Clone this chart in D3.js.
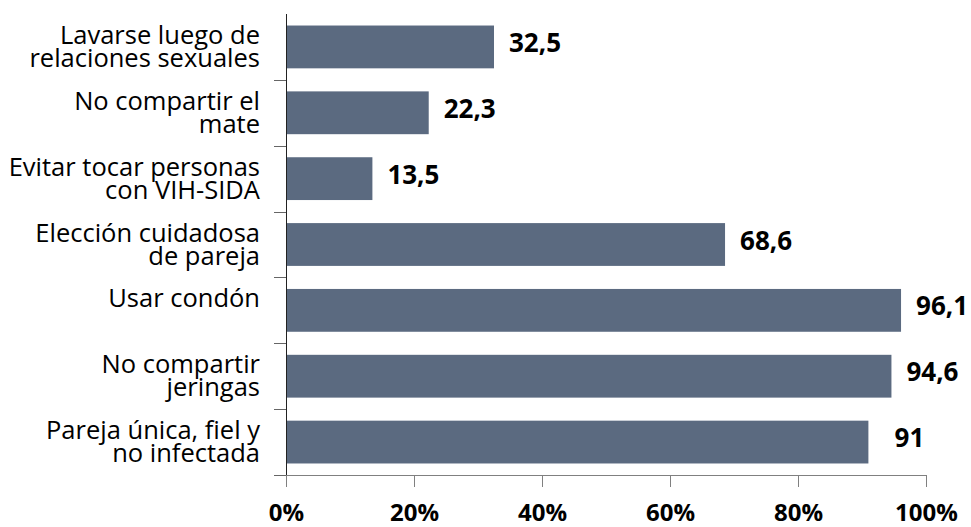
<!DOCTYPE html>
<meta charset="utf-8">
<head>
    <title>Prevención VIH</title>
    <script src="https://cdn.jsdelivr.net/npm/d3@7"></script>
    <style>
        body { margin: 0; background: #fff; }
        text { font-family: "Open Sans", "Noto Sans", sans-serif; }
    </style>
</head>
<body>
<script>
    // data
    var categories = [
        ["Lavarse luego de", "relaciones sexuales"],
        ["No compartir el", "mate"],
        ["Evitar tocar personas", "con VIH-SIDA"],
        ["Elección cuidadosa", "de pareja"],
        ["Usar condón"],
        ["No compartir", "jeringas"],
        ["Pareja única, fiel y", "no infectada"]
    ];
    var values = [32.5, 22.3, 13.5, 68.6, 96.1, 94.6, 91];
    var valueLabels = ["32,5", "22,3", "13,5", "68,6", "96,1", "94,6", "91"];
    var xTicks = [0, 20, 40, 60, 80, 100];

    var width = 971, height = 527;
    var plotLeft = 286, plotRight = 926, plotTop = 14, plotBottom = 475;

    var svg = d3.select("body").append("svg")
        .attr("width", width)
        .attr("height", height);

    var x = d3.scaleLinear().domain([0, 100]).range([plotLeft, plotRight]);
    var y = d3.scaleBand()
        .domain(d3.range(categories.length))
        .range([plotTop, plotBottom])
        .paddingInner(0.35)
        .paddingOuter(0.175);

    // bars
    svg.selectAll(".bar")
        .data(values)
        .enter()
        .append("rect")
        .attr("class", "bar")
        .attr("x", x(0))
        .attr("y", function(d, i) { return y(i); })
        .attr("width", function(d) { return x(d) - x(0); })
        .attr("height", y.bandwidth())
        .attr("fill", "#5b6a80");

    // value labels
    svg.selectAll(".val")
        .data(values)
        .enter()
        .append("text")
        .attr("class", "val")
        .attr("x", function(d) { return x(d) + 41; })
        .attr("y", function(d, i) { return y(i) + y.bandwidth() / 2 + 5; })
        .attr("text-anchor", "middle")
        .attr("font-size", 26)
        .attr("font-weight", "bold")
        .attr("fill", "#000")
        .text(function(d, i) { return valueLabels[i]; });

    // x axis
    var xAxis = d3.axisBottom(x)
        .tickValues(xTicks)
        .tickSize(12)
        .tickPadding(17)
        .tickFormat(function(d) { return d + "%"; });

    var gx = svg.append("g")
        .attr("transform", "translate(0," + plotBottom + ")")
        .call(xAxis);
    gx.select(".domain").attr("stroke", "#808080").attr("d", "M" + plotLeft + ",0.5H" + plotRight);
    gx.selectAll(".tick line").attr("stroke", "#808080");
    gx.selectAll(".tick text")
        .attr("font-size", 24)
        .attr("font-weight", "bold")
        .attr("fill", "#000")
        .attr("font-family", "'Open Sans', sans-serif");

    // y axis line and ticks at band boundaries
    svg.append("line")
        .attr("x1", plotLeft + 0.5).attr("x2", plotLeft + 0.5)
        .attr("y1", plotTop).attr("y2", plotBottom)
        .attr("stroke", "#222");

    var step = y.step();
    var bounds = d3.range(1, categories.length + 1).map(function(k) {
        return y(k - 1) + y.bandwidth() + (step - y.bandwidth()) / 2;
    });
    svg.selectAll(".ytick")
        .data(bounds)
        .enter()
        .append("line")
        .attr("x1", plotLeft - 12).attr("x2", plotLeft)
        .attr("y1", function(d) { return Math.round(d) + 0.5; })
        .attr("y2", function(d) { return Math.round(d) + 0.5; })
        .attr("stroke", "#666");

    // category labels
    var labels = svg.selectAll(".cat")
        .data(categories)
        .enter()
        .append("text")
        .attr("class", "cat")
        .attr("text-anchor", "end")
        .attr("font-size", 25.5)
        .attr("fill", "#000");

    labels.selectAll("tspan")
        .data(function(d, i) { return d.map(function(t) { return { t: t, i: i }; }); })
        .enter()
        .append("tspan")
        .attr("x", 260)
        .attr("y", function(d, j) { return y(d.i) + y.bandwidth() / 2 - 3 + j * 23; })
        .text(function(d) { return d.t; });
</script>
</body>
</html>
